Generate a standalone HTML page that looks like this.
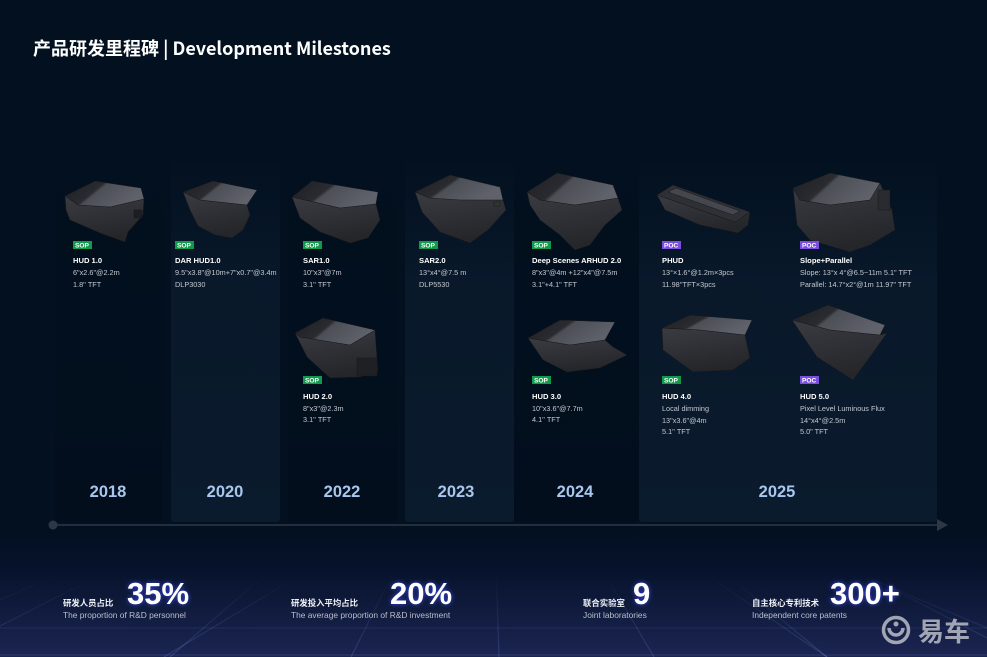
<!DOCTYPE html>
<html><head><meta charset="utf-8">
<style>
html,body{margin:0;padding:0;background:#020f1f;width:987px;height:657px;overflow:hidden;}
svg{display:block;position:absolute;left:0;top:0;overflow:hidden;}
text{font-family:"Liberation Sans","Noto Sans CJK SC",sans-serif;}
.cj{font-family:"Noto Sans CJK SC","Liberation Sans",sans-serif;}
.tt{font-weight:bold;font-size:7.6px;fill:#ffffff;}
.sp{font-size:7.3px;fill:#c4c8d0;}
.bd{font-size:6.6px;font-weight:bold;fill:#fff;}
.yr{font-size:16.5px;font-weight:bold;fill:#a8c6ee;}
.lbl{font-size:8.4px;font-weight:bold;fill:#f0f2f8;}
.en{font-size:8.4px;fill:#b9bfcc;}
.big{font-size:31px;font-weight:bold;fill:#ffffff;filter:url(#glow);}
</style></head>
<body>
<svg width="987" height="657" viewBox="0 0 987 657" xmlns="http://www.w3.org/2000/svg">
<defs>
  <linearGradient id="bgv" x1="0" y1="0" x2="0" y2="1">
    <stop offset="0" stop-color="#02101f"/>
    <stop offset="0.8" stop-color="#02101f"/>
    <stop offset="0.86" stop-color="#06122a"/>
    <stop offset="1" stop-color="#1b2552"/>
  </linearGradient>
  <linearGradient id="pl" x1="0" y1="0" x2="0" y2="1">
    <stop offset="0" stop-color="#0a1a2c" stop-opacity="0"/>
    <stop offset="0.35" stop-color="#0a1a2c" stop-opacity="0.85"/>
    <stop offset="1" stop-color="#0a1b2d" stop-opacity="1"/>
  </linearGradient>
  <linearGradient id="pd" x1="0" y1="0" x2="0" y2="1">
    <stop offset="0" stop-color="#010c19" stop-opacity="0"/>
    <stop offset="1" stop-color="#010c19" stop-opacity="0.45"/>
  </linearGradient>
  <linearGradient id="top" x1="0" y1="0" x2="1" y2="0.4">
    <stop offset="0" stop-color="#1e1f23"/>
    <stop offset="0.45" stop-color="#2a2b30"/>
    <stop offset="0.5" stop-color="#4c4f56"/>
    <stop offset="1" stop-color="#5f626a"/>
  </linearGradient>
  <linearGradient id="body" x1="0" y1="0" x2="0.3" y2="1">
    <stop offset="0" stop-color="#3a3c42"/>
    <stop offset="1" stop-color="#25262a"/>
  </linearGradient>
  <linearGradient id="grid" gradientUnits="userSpaceOnUse" x1="0" y1="575" x2="0" y2="657">
    <stop offset="0" stop-color="#8fa0ff" stop-opacity="0"/>
    <stop offset="1" stop-color="#8fa0ff" stop-opacity="0.2"/>
  </linearGradient>
  <filter id="glow" x="-30%" y="-30%" width="160%" height="160%">
    <feGaussianBlur in="SourceAlpha" stdDeviation="2.5" result="b"/>
    <feFlood flood-color="#3b4dff" flood-opacity="0.9"/>
    <feComposite in2="b" operator="in" result="g"/>
    <feMerge><feMergeNode in="g"/><feMergeNode in="SourceGraphic"/></feMerge>
  </filter>
  <clipPath id="gclip"><rect x="0" y="575" width="987" height="82"/></clipPath>
</defs>

<rect width="987" height="657" fill="url(#bgv)"/>

<!-- bottom grid -->
<g clip-path="url(#gclip)" stroke="url(#grid)" stroke-width="1.1" fill="none">
  <line x1="108" y1="503" x2="0" y2="538"/>
  <line x1="440" y1="400" x2="0" y2="600"/>
  <line x1="490" y1="380" x2="170" y2="657"/>
  <line x1="490" y1="380" x2="351" y2="657"/>
  <line x1="490" y1="380" x2="499" y2="657"/>
  <line x1="490" y1="380" x2="654" y2="657"/>
  <line x1="490" y1="380" x2="827" y2="657"/>
  <line x1="490" y1="380" x2="987" y2="638"/>
  <line x1="0" y1="628" x2="987" y2="628" stroke="#8fa0ff" stroke-opacity="0.12"/>
  <line x1="0" y1="655" x2="987" y2="655" stroke="#8fa0ff" stroke-opacity="0.18"/>
</g>
<g stroke="url(#grid)" stroke-width="1.1" fill="none">
  <line x1="100" y1="575" x2="0" y2="626"/>
  <line x1="300" y1="575" x2="164" y2="657"/>
  <line x1="707" y1="575" x2="827" y2="657"/>
  <line x1="862" y1="575" x2="987" y2="628"/>
</g>

<!-- panels -->
<rect x="55" y="150" width="108" height="372" rx="3" fill="url(#pd)"/>
<rect x="171" y="150" width="109" height="372" rx="3" fill="url(#pl)"/>
<rect x="288" y="150" width="109" height="372" rx="3" fill="url(#pd)"/>
<rect x="405" y="150" width="109" height="372" rx="3" fill="url(#pl)"/>
<rect x="514" y="150" width="125" height="372" rx="3" fill="url(#pd)"/>
<rect x="639" y="150" width="298" height="372" rx="3" fill="url(#pl)"/>

<!-- title -->
<text x="33" y="55" font-size="18" font-weight="bold" fill="#ffffff" class="cj">产品研发里程碑 | Development Milestones</text>

<!-- products -->
<g stroke="#17181b" stroke-width="0.5">
  <polygon points="65,196 78,205 110,207 144,199 143,215 128,232 125,242 100,233 70,220 66,210" fill="url(#body)"/>
  <polygon points="65,196 95,181 141,188 144,199 110,207 78,205" fill="url(#top)"/>
  <rect x="134" y="210" width="8" height="8" fill="#1d1e21"/>
  <polygon points="183,192 200,200 247,205 250,215 243,230 232,238 215,235 198,226 190,210" fill="url(#body)"/>
  <polygon points="183,192 213,181 257,190 247,205 200,200" fill="url(#top)"/>
  <polygon points="292,197 340,208 376,204 380,220 368,238 350,243 320,232 300,218" fill="url(#body)"/>
  <polygon points="292,197 312,181 378,192 376,204 340,208" fill="url(#top)"/>
  <polygon points="415,192 430,198 503,200 506,210 488,230 470,243 440,232 422,212" fill="url(#body)"/>
  <polygon points="415,192 450,175 500,187 503,200 460,200 430,198" fill="url(#top)"/>
  <rect x="494" y="202" width="6" height="4" fill="#2c3a2c"/>
  <polygon points="527,192 540,200 575,205 618,198 622,210 605,225 590,245 575,250 560,235 540,220 530,205" fill="url(#body)"/>
  <polygon points="527,192 557,173 613,185 618,198 575,205 540,200" fill="url(#top)"/>
  <polygon points="657,195 735,222 750,212 748,225 738,233 700,225 665,210" fill="url(#body)"/>
  <polygon points="657,195 673,185 750,212 735,222" fill="#2f3036"/>
  <polygon points="668,192 676,188 740,211 733,215" fill="#45474e"/>
  <polygon points="793,188 800,200 830,205 870,200 880,183 892,210 895,230 870,245 850,252 810,240 797,225" fill="url(#body)"/>
  <polygon points="793,188 830,173 880,183 870,200 830,205 800,200" fill="url(#top)"/>
  <rect x="878" y="190" width="12" height="20" fill="#2a2b30"/>

  <polygon points="295,333 300,337 350,345 375,330 378,372 360,377 330,378 307,357" fill="url(#body)"/>
  <polygon points="295,333 323,318 375,330 350,345 300,337" fill="url(#top)"/>
  <rect x="357" y="358" width="20" height="18" fill="#1f2024"/>
  <polygon points="528,338 570,345 605,340 613,347 627,355 600,368 567,372 543,360" fill="url(#body)"/>
  <polygon points="528,338 560,320 615,322 605,340 570,345" fill="url(#top)"/>
  <polygon points="662,328 700,330 745,335 750,358 733,370 693,372 663,350" fill="url(#body)"/>
  <polygon points="662,328 690,315 752,320 745,335 700,330" fill="url(#top)"/>
  <polygon points="792,320 830,330 880,335 887,333 870,357 853,380 817,357" fill="url(#body)"/>
  <polygon points="792,320 828,305 885,325 880,335 830,330" fill="url(#top)"/>
</g>

<!-- row 1 text -->
<g>
  <rect x="73" y="241" width="19" height="8" fill="#11994c"/><text x="75" y="247.6" class="bd">SOP</text>
  <text x="73" y="263" class="tt">HUD 1.0</text>
  <text x="73" y="275" class="sp">6"x2.6"@2.2m</text>
  <text x="73" y="287" class="sp">1.8'' TFT</text>

  <rect x="175" y="241" width="19" height="8" fill="#11994c"/><text x="177" y="247.6" class="bd">SOP</text>
  <text x="175" y="263" class="tt">DAR HUD1.0</text>
  <text x="175" y="275" class="sp">9.5"x3.8"@10m+7"x0.7"@3.4m</text>
  <text x="175" y="287" class="sp">DLP3030</text>

  <rect x="303" y="241" width="19" height="8" fill="#11994c"/><text x="305" y="247.6" class="bd">SOP</text>
  <text x="303" y="263" class="tt">SAR1.0</text>
  <text x="303" y="275" class="sp">10"x3"@7m</text>
  <text x="303" y="287" class="sp">3.1'' TFT</text>

  <rect x="419" y="241" width="19" height="8" fill="#11994c"/><text x="421" y="247.6" class="bd">SOP</text>
  <text x="419" y="263" class="tt">SAR2.0</text>
  <text x="419" y="275" class="sp">13°x4°@7.5 m</text>
  <text x="419" y="287" class="sp">DLP5530</text>

  <rect x="532" y="241" width="19" height="8" fill="#11994c"/><text x="534" y="247.6" class="bd">SOP</text>
  <text x="532" y="263" class="tt">Deep Scenes ARHUD 2.0</text>
  <text x="532" y="275" class="sp">8"x3"@4m +12"x4"@7.5m</text>
  <text x="532" y="287" class="sp">3.1"+4.1" TFT</text>

  <rect x="662" y="241" width="19" height="8" fill="#7a4fe0"/><text x="664" y="247.6" class="bd">POC</text>
  <text x="662" y="263" class="tt">PHUD</text>
  <text x="662" y="275" class="sp">13°×1.6°@1.2m×3pcs</text>
  <text x="662" y="287" class="sp">11.98''TFT×3pcs</text>

  <rect x="800" y="241" width="19" height="8" fill="#7a4fe0"/><text x="802" y="247.6" class="bd">POC</text>
  <text x="800" y="263" class="tt">Slope+Parallel</text>
  <text x="800" y="275" class="sp">Slope: 13°x 4°@6.5~11m  5.1" TFT</text>
  <text x="800" y="287" class="sp">Parallel: 14.7°x2°@1m  11.97"  TFT</text>
</g>

<!-- row 2 text -->
<g>
  <rect x="303" y="376" width="19" height="8" fill="#11994c"/><text x="305" y="382.6" class="bd">SOP</text>
  <text x="303" y="399" class="tt">HUD 2.0</text>
  <text x="303" y="411" class="sp">8"x3"@2.3m</text>
  <text x="303" y="422" class="sp">3.1'' TFT</text>

  <rect x="532" y="376" width="19" height="8" fill="#11994c"/><text x="534" y="382.6" class="bd">SOP</text>
  <text x="532" y="399" class="tt">HUD 3.0</text>
  <text x="532" y="411" class="sp">10"x3.6"@7.7m</text>
  <text x="532" y="422" class="sp">4.1'' TFT</text>

  <rect x="662" y="376" width="19" height="8" fill="#11994c"/><text x="664" y="382.6" class="bd">SOP</text>
  <text x="662" y="399" class="tt">HUD 4.0</text>
  <text x="662" y="411" class="sp">Local dimming</text>
  <text x="662" y="423" class="sp">13"x3.6"@4m</text>
  <text x="662" y="434" class="sp">5.1'' TFT</text>

  <rect x="800" y="376" width="19" height="8" fill="#7a4fe0"/><text x="802" y="382.6" class="bd">POC</text>
  <text x="800" y="399" class="tt">HUD 5.0</text>
  <text x="800" y="411" class="sp">Pixel Level Luminous Flux</text>
  <text x="800" y="423" class="sp">14°x4°@2.5m</text>
  <text x="800" y="434" class="sp">5.0" TFT</text>
</g>

<!-- years -->
<text x="108" y="497" class="yr" text-anchor="middle">2018</text>
<text x="225" y="497" class="yr" text-anchor="middle">2020</text>
<text x="342" y="497" class="yr" text-anchor="middle">2022</text>
<text x="456" y="497" class="yr" text-anchor="middle">2023</text>
<text x="575" y="497" class="yr" text-anchor="middle">2024</text>
<text x="777" y="497" class="yr" text-anchor="middle">2025</text>

<!-- timeline -->
<line x1="53" y1="525" x2="940" y2="525" stroke="#2c3848" stroke-width="1.6"/>
<circle cx="53" cy="525" r="4.5" fill="#2c3848"/>
<polygon points="937,519 948,525 937,531" fill="#2c3848"/>

<!-- stats -->
<text x="63" y="606" class="lbl cj">研发人员占比</text>
<text x="127" y="604" class="big">35%</text>
<text x="63" y="618" class="en">The proportion of R&amp;D personnel</text>

<text x="291" y="606" class="lbl cj">研发投入平均占比</text>
<text x="390" y="604" class="big">20%</text>
<text x="291" y="618" class="en">The average proportion of R&amp;D investment</text>

<text x="583" y="606" class="lbl cj">联合实验室</text>
<text x="633" y="604" class="big">9</text>
<text x="583" y="618" class="en">Joint laboratories</text>

<text x="752" y="606" class="lbl cj">自主核心专利技术</text>
<text x="830" y="604" class="big">300+</text>
<text x="752" y="618" class="en">Independent core patents</text>

<!-- logo -->
<g opacity="0.75">
  <circle cx="896" cy="630" r="12.5" fill="none" stroke="#d0d2d8" stroke-width="3.5"/>
  <path d="M889,628 a7,7 0 0 0 14,0" fill="none" stroke="#d0d2d8" stroke-width="3.5"/>
  <circle cx="896" cy="624" r="2.5" fill="#d0d2d8"/>
  <text x="918" y="641" font-size="26" font-weight="bold" fill="#d0d2d8" class="cj">易车</text>
</g>
</svg>
</body></html>
